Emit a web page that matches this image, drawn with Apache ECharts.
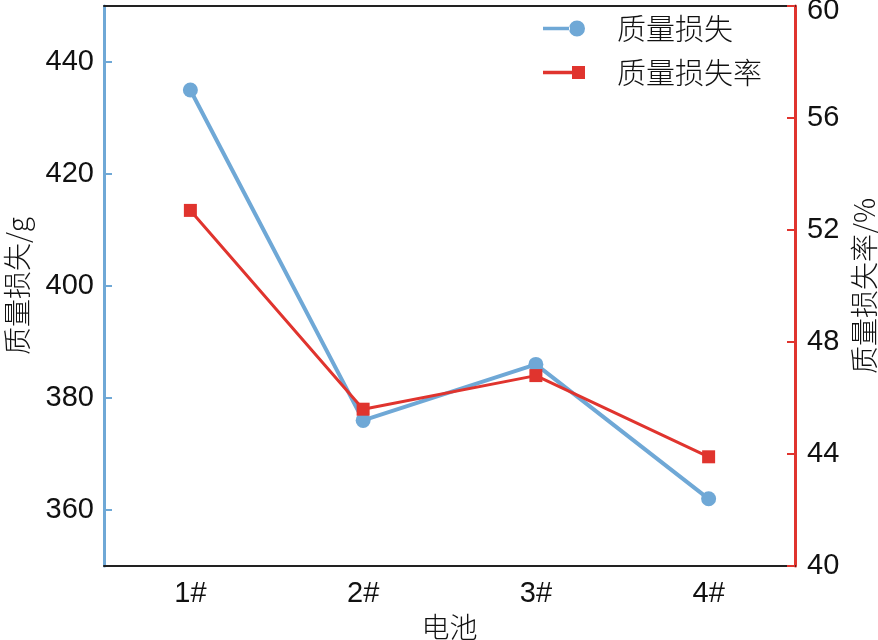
<!DOCTYPE html>
<html><head><meta charset="utf-8">
<script src="https://cdn.jsdelivr.net/npm/echarts@6/dist/echarts.min.js"></script>
<style>html,body{margin:0;padding:0;background:#fff}#c{width:878px;height:640px}</style>
</head><body><div id="c"></div>
<script>
const categories = ['1#', '2#', '3#', '4#'];
const massLoss = [435, 376, 386, 362];
const massLossRate = [52.7, 45.6, 46.8, 43.9];
const leftTicks = [360, 380, 400, 420, 440];
const rightTicks = [40, 44, 48, 52, 56, 60];
const seriesNames = ['质量损失', '质量损失率'];

const blue = '#6fa8d6';
const red = '#e0342e';
const txt = '#111';
const numFont = '"Liberation Sans", Arial, sans-serif';
const cjkFont = '"Noto Sans CJK SC", sans-serif';

const chart = echarts.init(document.getElementById('c'), null, {renderer: 'canvas'});
chart.setOption({
  animation: false,
  backgroundColor: '#fff',
  grid: {left: 104, right: 83, top: 6, bottom: 74, containLabel: false, outerBoundsMode: 'none'},
  legend: {
    left: 543, top: 14, orient: 'vertical', itemGap: 15, padding: 0,
    itemWidth: 42, itemHeight: 18,
    textStyle: {fontFamily: cjkFont, fontSize: 29, color: txt, fontWeight: 300, padding: [0, 0, 0, 27]},
    data: [
      {name: seriesNames[0], icon: 'path://M0,7.3h27v3.4H0z M26,9a8,8 0 1,0 16,0a8,8 0 1,0 -16,0z'},
      {name: seriesNames[1], icon: 'path://M0,7.3h29v3.4H0z M29,2.5h13v13H29z'}
    ]
  },
  xAxis: [{
    type: 'category', data: categories, boundaryGap: true,
    axisLine: {lineStyle: {color: '#222', width: 2}},
    axisTick: {inside: true, alignWithLabel: true, length: 8, lineStyle: {color: '#555', width: 2}},
    axisLabel: {fontFamily: numFont, fontSize: 29, color: txt, margin: 13},
    name: '电池', nameLocation: 'middle', nameGap: 45,
    nameTextStyle: {fontFamily: cjkFont, fontSize: 28, color: txt, fontWeight: 300}
  }, {
    type: 'category', data: categories, position: 'top',
    axisLine: {lineStyle: {color: '#222', width: 2}},
    axisTick: {show: false}, axisLabel: {show: false}
  }],
  yAxis: [{
    type: 'value', min: 350, max: 450, position: 'left',
    axisLine: {show: true, lineStyle: {color: blue, width: 3}},
    axisTick: {show: true, inside: true, length: 8, customValues: leftTicks, lineStyle: {color: blue, width: 2}},
    axisLabel: {fontFamily: numFont, fontSize: 29, color: txt, margin: 10, customValues: leftTicks},
    splitLine: {show: false},
    name: '质量损失/g', nameLocation: 'middle', nameGap: 73, nameRotate: 90,
    nameTextStyle: {fontFamily: cjkFont, fontSize: 28, color: txt, fontWeight: 300}
  }, {
    type: 'value', min: 40, max: 60, interval: 4, position: 'right',
    axisLine: {show: true, lineStyle: {color: red, width: 3}},
    axisTick: {show: true, inside: true, length: 8, lineStyle: {color: red, width: 2}},
    axisLabel: {
      fontFamily: numFont, fontSize: 29, color: txt, margin: 12,
      formatter: v => v === rightTicks[rightTicks.length - 1] ? '{t|' + v + '}' : String(v),
      rich: {t: {fontFamily: numFont, fontSize: 29, color: txt, padding: [10, 0, 0, 0]}}
    },
    splitLine: {show: false},
    name: '质量损失率/%', nameLocation: 'middle', nameGap: 54, nameRotate: 90,
    nameTextStyle: {fontFamily: cjkFont, fontSize: 28, color: txt, fontWeight: 300}
  }],
  series: [{
    name: seriesNames[0], type: 'line', data: massLoss, yAxisIndex: 0,
    symbol: 'circle', symbolSize: 15,
    lineStyle: {color: blue, width: 4}, itemStyle: {color: blue}
  }, {
    name: seriesNames[1], type: 'line', data: massLossRate, yAxisIndex: 1,
    symbol: 'rect', symbolSize: 13,
    lineStyle: {color: red, width: 3}, itemStyle: {color: red}
  }]
});
</script></body></html>
